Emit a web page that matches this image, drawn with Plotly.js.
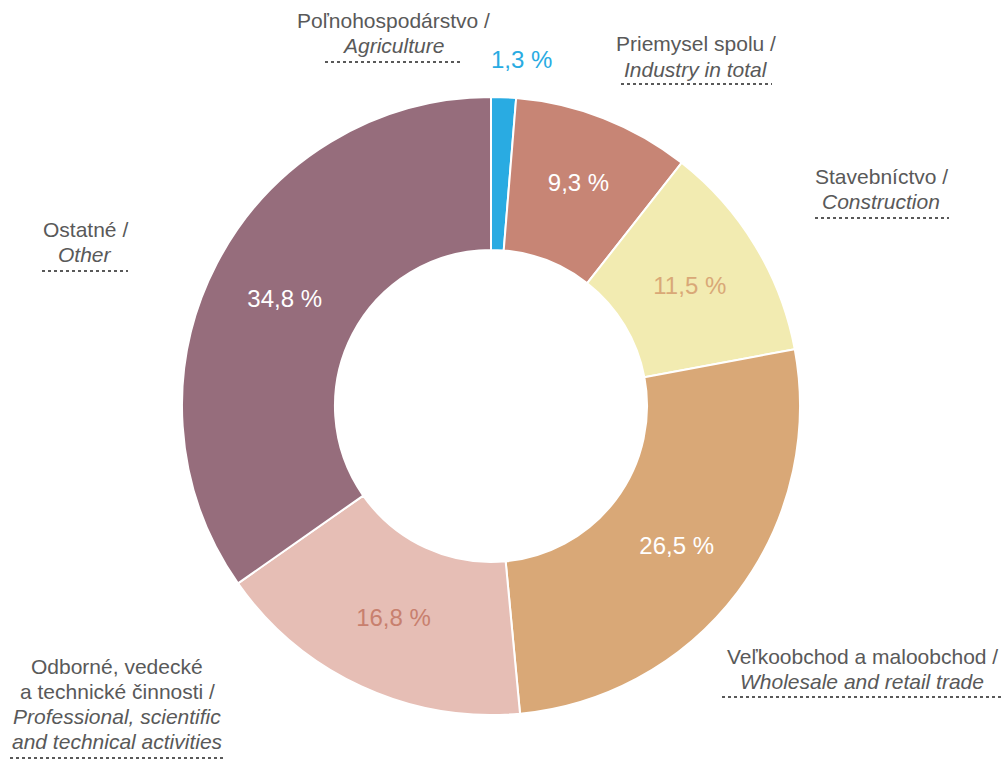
<!DOCTYPE html>
<html>
<head>
<meta charset="utf-8">
<script src="https://cdn.plot.ly/plotly-3.0.1.min.js"></script>
<style>html,body{margin:0;padding:0;background:#fff;}#chart{width:1005px;height:762px;}</style>
</head>
<body>
<div id="chart"></div>
<script>
// ---- data ----
const categories = ['Poľnohospodárstvo / Agriculture', 'Priemysel spolu / Industry in total', 'Stavebníctvo / Construction', 'Veľkoobchod a maloobchod / Wholesale and retail trade', 'Odborné, vedecké a technické činnosti / Professional, scientific and technical activities', 'Ostatné / Other'];
const values = [1.3, 9.3, 11.5, 26.5, 16.8, 34.8];
const percentLabels = ['1,3 %', '9,3 %', '11,5 %', '26,5 %', '16,8 %', '34,8 %'];
const labelLines = [
  ['Poľnohospodárstvo /', '<i>Agriculture</i>'],
  ['Priemysel spolu /', '<i>Industry in total</i>'],
  ['Stavebníctvo /', '<i>Construction</i>'],
  ['Veľkoobchod a maloobchod /', '<i>Wholesale and retail trade</i>'],
  ['Odborné, vedecké', 'a technické činnosti /', '<i>Professional, scientific</i>', '<i>and technical activities</i>'],
  ['Ostatné /', '<i>Other</i>']
];

// ---- styles ----
const FONT = 'Liberation Sans, Arial, sans-serif';
const sliceColors = ['#29ABE2', '#C78575', '#F2EBB1', '#D9A877', '#E6BEB5', '#966D7C'];
const textColors = ['#29ABE2', '#FFFFFF', '#D9A877', '#FFFFFF', '#C8806E', '#FFFFFF'];
const W = 1005, H = 762;
// label placement (pixels): center x, first line center y, dotted line x0, x1, y
const labelPlace = [
  {x: 393, y: 20, d0: 325, d1: 462, dy: 62},
  {x: 696, y: 44, d0: 621, d1: 772, dy: 84},
  {x: 881, y: 176, d0: 815, d1: 949, dy: 218},
  {x: 862, y: 656, d0: 722, d1: 1002, dy: 697},
  {x: 117, y: 666, d0: 10, d1: 225, dy: 758},
  {x: 85, y: 229, d0: 42, d1: 128, dy: 271}
];
// small slice whose value sits outside the ring
const outsidePlace = {x: 521, y: 60};
const lineGap = 25.3;
const px = v => v / W;
const py = v => 1 - v / H;

const annotations = [];
const shapes = [];
labelLines.forEach((lines, i) => {
  const p = labelPlace[i];
  lines.forEach((t, j) => {
    annotations.push({
      text: t, xref: 'paper', yref: 'paper', x: px(p.x), y: py(p.y + j * lineGap),
      xanchor: 'center', yanchor: 'middle', showarrow: false,
      font: {family: FONT, size: 21, color: '#595959'}
    });
  });
  shapes.push({
    type: 'line', xref: 'paper', yref: 'paper',
    x0: px(p.d0), x1: px(p.d1), y0: py(p.dy), y1: py(p.dy),
    line: {color: '#595959', width: 2, dash: 'dot'}
  });
});
annotations.push({
  text: percentLabels[0], xref: 'paper', yref: 'paper',
  x: px(outsidePlace.x), y: py(outsidePlace.y), xanchor: 'center', yanchor: 'middle',
  showarrow: false, font: {family: FONT, size: 24, color: textColors[0]}
});

const cx = 491, cy = 406, R = 309;
const trace = {
  type: 'pie',
  labels: categories,
  values: values,
  text: percentLabels.map((t, i) => i === 0 ? '' : t),
  textinfo: 'text',
  texttemplate: '%{text}',
  textposition: 'inside',
  insidetextorientation: 'horizontal',
  textfont: {family: FONT, size: 24, color: textColors},
  hole: 0.505,
  sort: false,
  direction: 'clockwise',
  rotation: 0,
  marker: {colors: sliceColors, line: {color: '#FFFFFF', width: 2}},
  domain: {x: [px(cx - R), px(cx + R)], y: [py(cy + R), py(cy - R)]},
  automargin: false,
  showlegend: false,
  hoverinfo: 'label+percent'
};

const layout = {
  width: W, height: H,
  margin: {l: 0, r: 0, t: 0, b: 0},
  paper_bgcolor: '#FFFFFF',
  plot_bgcolor: '#FFFFFF',
  showlegend: false,
  annotations: annotations,
  shapes: shapes
};

Plotly.newPlot('chart', [trace], layout, {displayModeBar: false, responsive: false});
</script>
</body>
</html>
